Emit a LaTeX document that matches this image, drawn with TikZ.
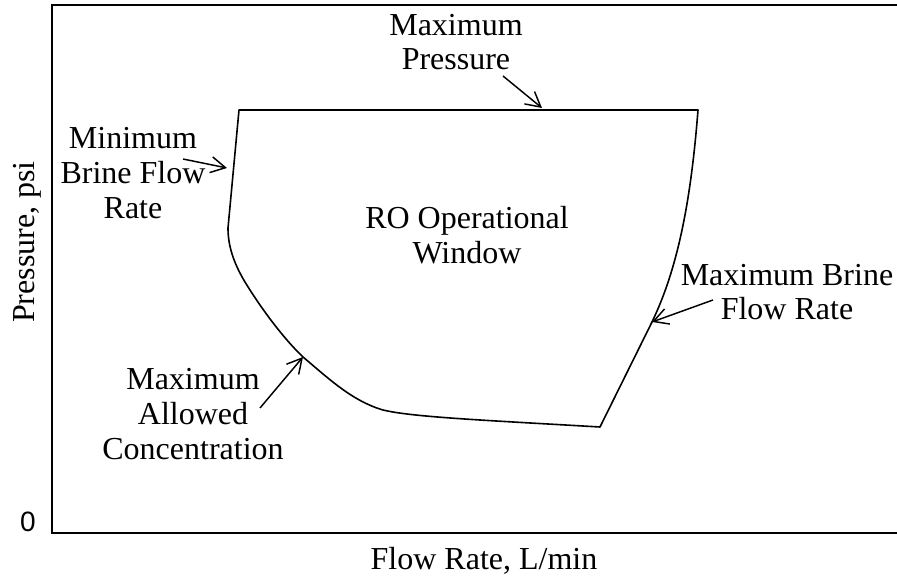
\documentclass[tikz,border=0pt]{standalone}
\usepackage{fontspec}
\setmainfont{Liberation Serif}
\newfontfamily\zerofont{Liberation Sans}
\usetikzlibrary{arrows.meta,positioning}

\begin{document}
\begin{tikzpicture}[x=0.75pt, y=-0.75pt,
		note/.style={align=center, inner sep=0pt, font=\fontsize{24}{26}\selectfont},
		pointer/.style={-{Straight Barb[length=11pt,width=12pt]}, line width=1.1pt},
		window/.style={line width=1.2pt, line join=round}]
		\useasboundingbox (0,0) rectangle (897,580);
		
		% axes frame
		\draw[line width=1.5pt] (900,5) -- (52,5) -- (52,533) -- (900,533);
		
		\node[note] (roNote) at (467,235) {RO Operational\\Window};
		\node[note, anchor=base] (xTitle) at (484,570) {Flow Rate, L/min};
		\node[note, rotate=90, anchor=base] (yTitle) at (35,242) {Pressure, psi};
		\node[inner sep=0pt, font=\zerofont\fontsize{21}{21}\selectfont] (zeroLbl) at (28,522) {0};
		
		% operational window
		\coordinate (topL) at (239,110);
		\coordinate (topR) at (698,110);
		\coordinate (presTip) at (542,108);
		\coordinate (maxTip) at (652,322);
		\coordinate (botR) at (600,427);
		\coordinate (concTip) at (303,357);
		\coordinate (minCorner) at (228,228);
		\coordinate (minTip) at (227,168);
		\draw[window] (topL) -- (topR)
			.. controls (691,200) and (678,268) .. (maxTip) -- (botR)
			.. controls (480,420) and (412,417) .. (383,410)
			.. controls (352,401) and (328,378) .. (concTip)
			.. controls (285,340) and (262,310) .. (245,282)
			.. controls (233,262) and (228,245) .. (minCorner) -- cycle;
		
		\node[note] (presNote) at (456,42) {Maximum\\Pressure};
		\node[note] (minNote) at (133,173) {Minimum\\Brine Flow\\Rate};
		\node[note] (concNote) at (193,414) {Maximum\\Allowed\\Concentration};
		\node[note] (maxNote) at (787,292) {Maximum Brine\\Flow Rate};
		
		\coordinate (presTail) at (503,76);
		\coordinate (minTail) at (183,159);
		\coordinate (concTail) at (260,408);
		\coordinate (maxTail) at (713,300);
		
		\path[pointer] (presTail) edge (presTip)
		(minTail) edge (minTip)
		(concTail) edge (concTip)
		(maxTail) edge (maxTip);
		
	\end{tikzpicture}
\end{document}
